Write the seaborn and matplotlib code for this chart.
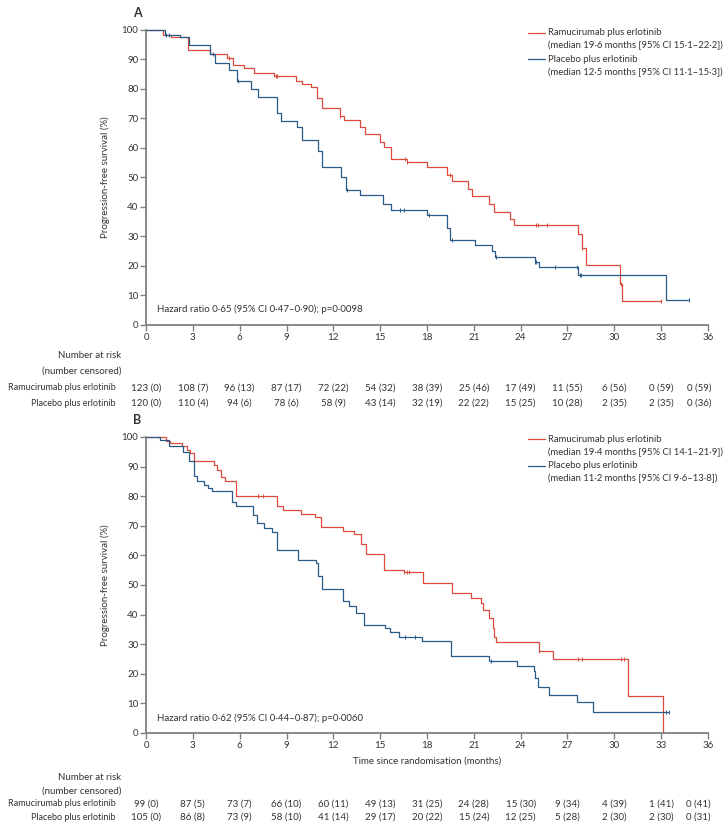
import numpy as np
import pandas as pd
import matplotlib
matplotlib.use('Agg')
import matplotlib.pyplot as plt
import matplotlib.transforms as mtransforms
from matplotlib.lines import Line2D
import seaborn as sns

# ---- data (months, % progression-free) ----
months = list(range(0, 37, 3))

# panel A
a_ram_t = [0, 1.1, 1.6, 2.7, 4.1, 5.2, 5.6, 6.3, 6.9, 8.2, 9.6, 10.0, 10.6, 10.95, 11.3, 12.4, 12.7,
           13.7, 14.0, 15.0, 15.25, 15.7, 16.7, 18.0, 19.25, 19.6, 20.6, 20.9, 22.0, 22.3, 23.3, 23.6,
           27.7, 27.9, 28.2, 30.35, 30.5, 33.0]
a_ram_s = [100, 98.3, 97.6, 93.2, 91.9, 90.5, 88.0, 87.0, 85.4, 84.3, 82.8, 81.8, 80.8, 77.0, 73.6, 71.0, 69.4,
           67.0, 64.7, 62.0, 60.2, 56.3, 55.1, 53.4, 51.0, 48.9, 46.0, 43.8, 41.0, 38.2, 35.9, 34.0,
           31.0, 26.0, 20.4, 14.0, 8.2, 8.2]
a_pla_t = [0, 1.2, 2.2, 2.75, 4.1, 4.4, 5.3, 5.85, 6.7, 7.15, 8.4, 8.65, 9.65, 10.0, 11.0, 11.3, 12.5, 12.8,
           13.7, 15.2, 15.7, 18.0, 19.25, 19.5, 21.1, 22.15, 22.35, 24.9, 25.2, 27.7, 33.3, 34.8]
a_pla_s = [100, 98.4, 97.6, 94.8, 91.9, 88.7, 86.5, 82.6, 80.0, 77.2, 72.0, 69.3, 67.0, 62.7, 59.0, 53.4, 50.0, 45.8,
           44.0, 41.0, 38.9, 37.3, 33.0, 28.7, 27.1, 25.0, 23.2, 21.5, 19.8, 17.1, 8.5, 8.5]
a_ram_cens = [5.3, 8.3, 8.4, 12.45, 16.6, 16.75, 19.45, 25.0, 25.1, 25.7, 27.95, 30.4, 33.0]
a_pla_cens = [1.3, 1.5, 4.3, 5.9, 12.9, 16.3, 16.5, 18.1, 19.6, 22.4, 24.95, 25.0, 26.2, 27.6, 27.8, 27.85, 34.8]

# panel B
b_ram_t = [0, 1.25, 1.55, 2.3, 2.6, 2.8, 3.05, 4.35, 4.57, 4.78, 5.04, 5.74, 8.4, 8.8, 9.9, 10.8, 11.2,
           12.6, 13.35, 13.8, 14.1, 15.27, 16.5, 17.75, 19.6, 20.8, 21.45, 21.6, 22.0, 22.2, 22.3, 22.45,
           25.15, 26.05, 30.87, 33.14]
b_ram_s = [100, 98.8, 98.0, 96.8, 95.7, 94.6, 91.8, 90.6, 88.9, 86.4, 85.0, 79.9, 76.6, 75.5, 74.0, 73.0, 69.6,
           68.3, 67.2, 64.0, 60.5, 55.0, 54.3, 50.7, 47.3, 45.5, 43.9, 41.6, 38.9, 35.5, 32.6, 30.6,
           27.8, 25.0, 12.4, 0.0]
b_pla_t = [0, 0.92, 1.45, 2.38, 2.74, 3.06, 3.27, 3.7, 4.0, 4.2, 5.53, 5.74, 6.88, 7.14, 7.56, 8.1, 8.42,
           9.71, 10.9, 11.0, 11.3, 12.6, 13.0, 13.46, 13.96, 15.3, 15.6, 16.2, 17.68, 19.55, 22.0, 23.75,
           24.86, 24.93, 25.08, 25.83, 27.6, 28.62, 33.5]
b_pla_s = [100, 98.9, 96.8, 95.0, 92.0, 86.7, 85.0, 83.9, 82.8, 81.9, 78.0, 76.6, 73.5, 70.9, 69.3, 67.8, 61.7,
           58.5, 57.4, 52.9, 48.8, 44.5, 42.8, 40.7, 36.6, 35.5, 34.1, 32.6, 31.2, 26.1, 24.4, 22.5,
           20.8, 18.6, 15.5, 12.9, 10.5, 7.0, 7.0]
b_ram_cens = [7.2, 7.5, 16.55, 16.7, 16.85, 25.15, 27.7, 27.9, 30.4, 30.6]
b_pla_cens = [16.6, 17.2, 22.1, 33.3, 33.5]

# number at risk (number censored)
a_ram_n = [123, 108, 96, 87, 72, 54, 38, 25, 17, 11, 6, 0, 0]
a_ram_c = [0, 7, 13, 17, 22, 32, 39, 46, 49, 55, 56, 59, 59]
a_pla_n = [120, 110, 94, 78, 58, 43, 32, 22, 15, 10, 2, 2, 0]
a_pla_c = [0, 4, 6, 6, 9, 14, 19, 22, 25, 28, 35, 35, 36]
b_ram_n = [99, 87, 73, 66, 60, 49, 31, 24, 15, 9, 4, 1, 0]
b_ram_c = [0, 5, 7, 10, 11, 13, 25, 28, 30, 34, 39, 41, 41]
b_pla_n = [105, 86, 73, 58, 41, 29, 20, 15, 12, 5, 2, 2, 0]
b_pla_c = [0, 8, 9, 10, 14, 17, 22, 24, 25, 28, 30, 30, 31]

a_legend = ['Ramucirumab plus erlotinib', '(median 19·6 months [95% CI 15·1–22·2])',
            'Placebo plus erlotinib', '(median 12·5 months [95% CI 11·1–15·3])']
b_legend = ['Ramucirumab plus erlotinib', '(median 19·4 months [95% CI 14·1–21·9])',
            'Placebo plus erlotinib', '(median 11·2 months [95% CI 9·6–13·8])']
a_hr = 'Hazard ratio 0·65 (95% CI 0·47–0·90); p=0·0098'
b_hr = 'Hazard ratio 0·62 (95% CI 0·44–0·87); p=0·0060'

sns.set_style('ticks')
plt.rcParams['font.family'] = ['Lato', 'DejaVu Sans']

RED = '#dc4b3e'
BLUE = '#2a5b88'
GREY = '#808080'
TXT = '#333333'
FS = 7
W, H = 728, 823

fig = plt.figure(figsize=(W / 100, H / 100), dpi=100)
fig.patch.set_facecolor('white')


def fx(px):
    return px / W


def fy(py):
    return 1 - py / H


def step_value(t, s, c):
    idx = np.searchsorted(t, c, side='right') - 1
    return np.asarray(s)[idx]


def panel(letter, top, bottom, ram_t, ram_s, pla_t, pla_s, ram_cens, pla_cens,
          legend, leg_y, hr, hr_y, risk, risk_y, xlabel=None):
    ax = fig.add_axes([fx(146), fy(bottom), fx(708) - fx(146), (bottom - top) / H])
    df = pd.concat([
        pd.DataFrame({'t': ram_t, 's': ram_s, 'arm': 'Ramucirumab'}),
        pd.DataFrame({'t': pla_t, 's': pla_s, 'arm': 'Placebo'}),
    ])
    sns.lineplot(data=df, x='t', y='s', hue='arm', palette={'Ramucirumab': RED, 'Placebo': BLUE},
                 drawstyle='steps-post', estimator=None, sort=False, linewidth=0.9,
                 legend=False, ax=ax, clip_on=False)
    ax.plot(ram_cens, step_value(ram_t, ram_s, ram_cens), '|', color=RED, ms=3, mew=0.7, clip_on=False)
    ax.plot(pla_cens, step_value(pla_t, pla_s, pla_cens), '|', color=BLUE, ms=3, mew=0.7, clip_on=False)

    ax.set_xlim(0, 36)
    ax.set_ylim(0, 100)
    ax.set_xticks(months)
    ax.set_yticks(range(0, 101, 10))
    sns.despine(ax=ax)
    for sp in ('left', 'bottom'):
        ax.spines[sp].set_color(GREY)
        ax.spines[sp].set_linewidth(1.3)
    ax.tick_params(direction='out', length=4, width=1, color=GREY, labelsize=FS,
                   labelcolor=TXT, pad=1.5)
    ax.set_ylabel('Progression-free survival (%)', fontsize=FS, color=TXT)
    ax.yaxis.set_label_coords(-(146 - 110) / 562, 0.5)
    if xlabel:
        ax.set_xlabel(xlabel, fontsize=FS, color=TXT, labelpad=5)
    else:
        ax.set_xlabel('')

    fig.text(fx(137), fy(top - 17), letter, fontsize=9, fontweight='bold', color=TXT,
             ha='center', va='center')

    # legend
    for i, line in enumerate(legend):
        y = leg_y + i * 13.3
        if i % 2 == 0:
            fig.add_artist(Line2D([fx(528), fx(545)], [fy(y), fy(y)], lw=0.9,
                                  color=RED if i == 0 else BLUE))
        fig.text(fx(548), fy(y), line, fontsize=6.8, color=TXT, ha='left', va='center')

    fig.text(fx(157), fy(hr_y), hr, fontsize=FS, color=TXT, ha='left', va='center')

    # number at risk table
    tr = mtransforms.blended_transform_factory(ax.transData, fig.transFigure)
    fig.text(fx(121), fy(risk_y[0]), 'Number at risk', fontsize=FS, color=TXT, ha='right', va='center')
    fig.text(fx(121), fy(risk_y[1]), '(number censored)', fontsize=FS, color=TXT, ha='right', va='center')
    labels = ['Ramucirumab plus erlotinib', 'Placebo plus erlotinib']
    for (n, c), lab, y in zip(risk, labels, risk_y[2:]):
        fig.text(fx(116), fy(y), lab, fontsize=6.5, color=TXT, ha='right', va='center')
        for i, m in enumerate(months):
            last = i == len(months) - 1
            ax.text(m + (0.2 if last else 0), fy(y), f'{n[i]} ({c[i]})', transform=tr,
                    fontsize=FS, color=TXT, ha='right' if last else 'center', va='center')
    return ax


panel('A', 30, 325, a_ram_t, a_ram_s, a_pla_t, a_pla_s, a_ram_cens, a_pla_cens,
      a_legend, 32.5, a_hr, 309.5, [(a_ram_n, a_ram_c), (a_pla_n, a_pla_c)],
      [356, 371, 388, 403])
panel('B', 437, 733, b_ram_t, b_ram_s, b_pla_t, b_pla_s, b_ram_cens, b_pla_cens,
      b_legend, 439, b_hr, 718.5, [(b_ram_n, b_ram_c), (b_pla_n, b_pla_c)],
      [777, 791, 804, 817], xlabel='Time since randomisation (months)')

fig.savefig('out.png', dpi=100, facecolor='white')
